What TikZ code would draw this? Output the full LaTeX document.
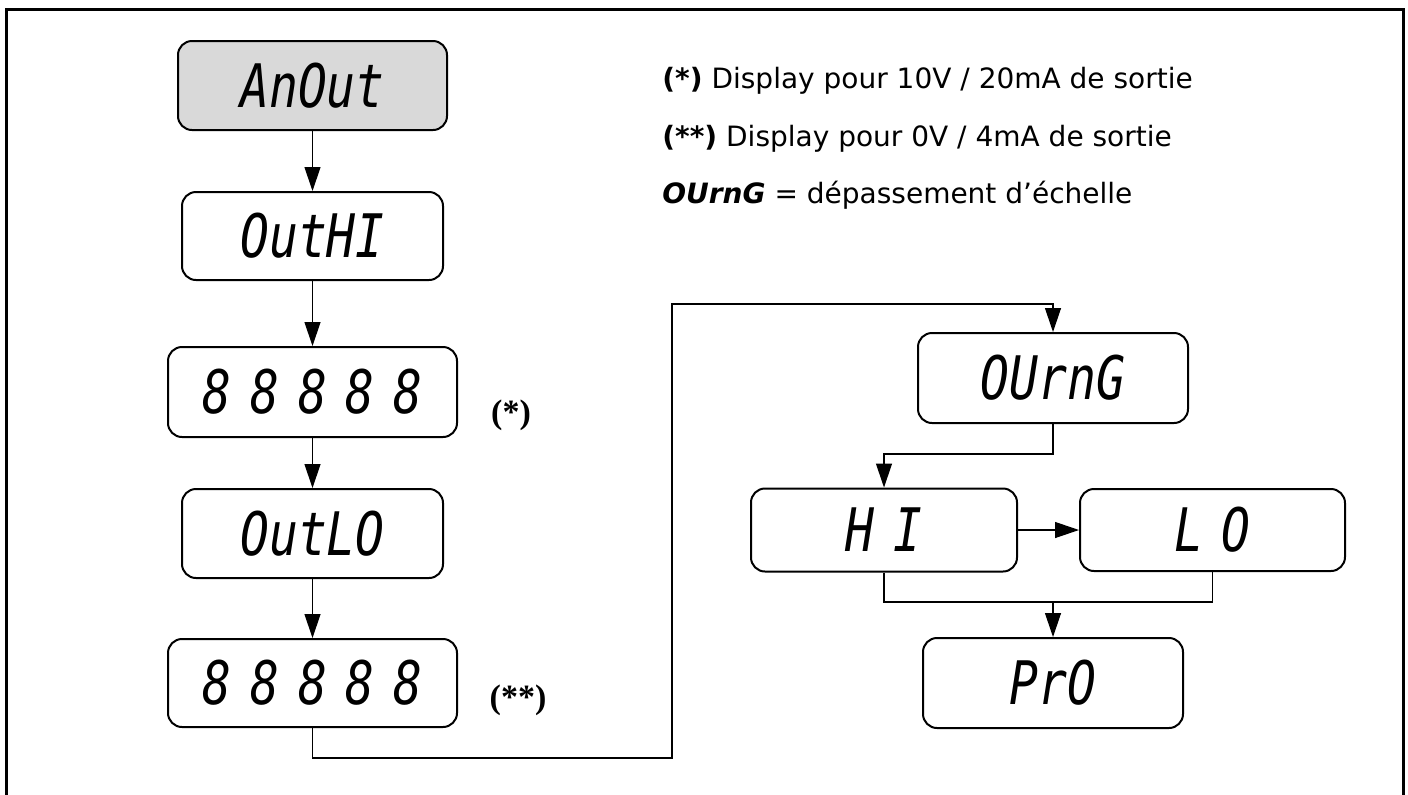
\documentclass[tikz,border=0pt]{standalone}
\usepackage{fontspec}
\setmainfont{DejaVu Sans}
\newfontfamily\segfont{DejaVu Sans Mono}[FakeStretch=0.8,WordSpace=0.65]
\newfontfamily\timesfont{Liberation Serif}
\usetikzlibrary{arrows.meta}
\tikzset{
  disp/.style={draw,line width=1pt,rounded corners=7pt,inner sep=0pt,
    font=\segfont\itshape\fontsize{30}{30}\selectfont},
  conn/.style={line width=.6pt},
  arr/.style={conn,-{Triangle[length=12pt,width=8pt]}},
  note/.style={anchor=base west,inner sep=0pt,font=\fontsize{14}{17}\selectfont},
  star/.style={inner sep=0pt,font=\timesfont\bfseries\fontsize{17}{17}\selectfont}
}
\begin{document}
\begin{tikzpicture}[x=.5pt,y=-.5pt]
\useasboundingbox (0,0) rectangle (1408,794);
\draw[line width=1.5pt] (6,820) |- (1403,9) -- (1403,820);
% left column
\node[disp,fill=black!15,minimum width=134.5pt,minimum height=44.5pt] (anout) at (312.5,85.5) {AnOut};
\node[disp,minimum width=130.5pt,minimum height=44pt] (outhi) at (312.5,236) {OutHI\hspace{8pt}};
\node[disp,minimum width=144.5pt,minimum height=45pt] (vhi) at (312.5,392) {8 8 8 8 8};
\node[disp,minimum width=130.5pt,minimum height=44.5pt] (outlo) at (312.5,533.5) {OutLO};
\node[disp,minimum width=144.5pt,minimum height=44pt] (vlo) at (312.5,683) {8 8 8 8 8};
\node[star] (s1) at (511,415) {(*)};
\node[star] (s2) at (518,700) {(**)};
% right column
\node[disp,minimum width=135pt,minimum height=45pt] (ourng) at (1053,378) {OUrnG};
\node[disp,minimum width=133pt,minimum height=41.5pt] (hi) at (884,530) {H I};
\node[disp,minimum width=132.5pt,minimum height=41pt] (lo) at (1212.5,530) {L O};
\node[disp,minimum width=130pt,minimum height=45pt] (pro) at (1053,683) {PrO\hspace{32pt}};
% legend
\node[note] (n1) at (662,88) {\textbf{(*)} Display pour 10V / 20mA de sortie};
\node[note] (n2) at (662,146) {\textbf{(**)} Display pour 0V / 4mA de sortie};
\node[note] (n3) at (662,203) {\textbf{\textit{OUrnG}} = dépassement d’échelle};
% connectors
\coordinate (b1) at (672,758);
\coordinate (b2) at (672,304);
\coordinate (join) at (1053,602);
\draw[arr] (anout) -- (outhi);
\draw[arr] (outhi.south -| anout.south) -- (vhi);
\draw[arr] (vhi) -- (outlo);
\draw[arr] (outlo) -- (vlo);
\draw[arr] (vlo.south) |- (b1) -- (b2) -| (ourng.north);
\draw[arr] (ourng.south) -- ++(0,30) -| (hi.north);
\draw[arr] (hi) -- (lo);
\draw[conn] (hi.south) |- (join) -| (lo.south);
\draw[arr] (join) -- (pro);
\end{tikzpicture}
\end{document}
